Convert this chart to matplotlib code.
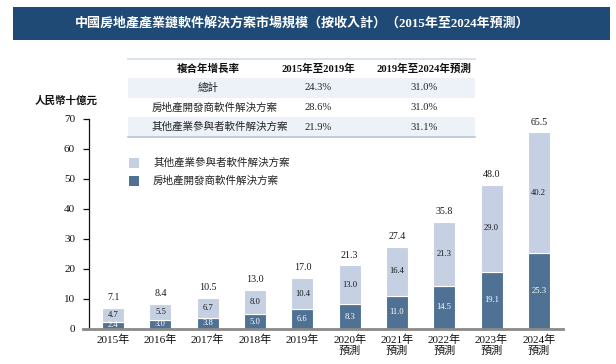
import matplotlib
matplotlib.use("Agg")
import matplotlib.pyplot as plt
from matplotlib.patches import Rectangle

plt.rcParams['font.family'] = ['Liberation Serif', 'Noto Sans CJK TC', 'DejaVu Sans']

# ---- data ----
years = ["2015年", "2016年", "2017年", "2018年", "2019年",
         "2020年\n預測", "2021年\n預測", "2022年\n預測", "2023年\n預測", "2024年\n預測"]
developer = [2.4, 3.0, 3.8, 5.0, 6.6, 8.3, 11.0, 14.5, 19.1, 25.3]
other = [4.7, 5.5, 6.7, 8.0, 10.4, 13.0, 16.4, 21.3, 29.0, 40.2]
totals = [7.1, 8.4, 10.5, 13.0, 17.0, 21.3, 27.4, 35.8, 48.0, 65.5]
series_names = ["其他產業參與者軟件解決方案", "房地產開發商軟件解決方案"]
yticks = [0, 10, 20, 30, 40, 50, 60, 70]

title = "中國房地產產業鏈軟件解決方案市場規模（按收入計）（2015年至2024年預測）"
ylabel = "人民幣十億元"
table_header = ["複合年增長率", "2015年至2019年", "2019年至2024年預測"]
table_rows = [
    ["總計", "24.3%", "31.0%"],
    ["房地產開發商軟件解決方案", "28.6%", "31.0%"],
    ["其他產業參與者軟件解決方案", "21.9%", "31.1%"],
]

DARK = "#4f7294"
LIGHT = "#c5d0e3"
BANNER = "#1f4a75"
ROWBG = "#edf2f8"

W, H = 616, 364
fig = plt.figure(figsize=(W / 100, H / 100), dpi=100)

def fx(px):
    return px / W

def fy(py):
    return 1 - py / H

# ---- title banner ----
fig.patches.append(Rectangle((fx(13), fy(40)), fx(610) - fx(13), fy(7) - fy(40),
                             transform=fig.transFigure, facecolor=BANNER,
                             edgecolor="none", zorder=0))
fig.text(fx(302), fy(23.5), title, color="white", fontsize=9.4, fontweight="bold",
         ha="center", va="center")

# ---- CAGR table ----
tl, tr = 128, 475
row_edges = [59, 78, 98, 117, 137]
for i in range(4):
    if i in (1, 3):
        fig.patches.append(Rectangle((fx(tl), fy(row_edges[i + 1])), fx(tr) - fx(tl),
                                     fy(row_edges[i]) - fy(row_edges[i + 1]),
                                     transform=fig.transFigure, facecolor=ROWBG,
                                     edgecolor="none", zorder=0))
for yline, col in [(59, "#d5dde8"), (137, "#b9c6d8")]:
    fig.add_artist(plt.Line2D([fx(tl), fx(tr)], [fy(yline), fy(yline)],
                              transform=fig.transFigure, color=col, lw=1.2))
col_x = [208, 318, 424]
hy = (row_edges[0] + row_edges[1]) / 2
for cx, txt in zip(col_x, table_header):
    fig.text(fx(cx), fy(hy), txt, fontsize=7.6, fontweight="bold",
             ha="center", va="center", color="#111111")
for r, row in enumerate(table_rows):
    ry = (row_edges[r + 1] + row_edges[r + 2]) / 2
    for c, txt in enumerate(row):
        if c == 0 and r > 0:
            fig.text(fx(152), fy(ry), txt, fontsize=7.6, ha="left", va="center",
                     color="#222222")
        else:
            fig.text(fx(col_x[c]), fy(ry), txt, fontsize=7.6, ha="center",
                     va="center", color="#222222")

# ---- axes ----
ax = fig.add_axes([fx(89), fy(329), fx(563) - fx(89), fy(119) - fy(329)])
x = list(range(len(years)))
bw = 0.465
ax.bar(x, developer, width=bw, color=DARK, edgecolor="white", linewidth=0.8,
       label=series_names[1], zorder=2)
ax.bar(x, other, width=bw, bottom=developer, color=LIGHT, edgecolor="white",
       linewidth=0.8, label=series_names[0], zorder=2)

for i in x:
    ax.text(i, developer[i] / 2, f"{developer[i]:.1f}", ha="center", va="center",
            fontsize=6.2, color="white", zorder=3)
    ax.text(i, developer[i] + other[i] / 2, f"{other[i]:.1f}", ha="center",
            va="center", fontsize=6.2, color="#1a1a1a", zorder=3)
    ax.annotate(f"{totals[i]:.1f}", (i, totals[i]), xytext=(0, 4),
                textcoords="offset points", ha="center", va="bottom",
                fontsize=7.2, color="#1a1a1a")

ax.set_xlim(-0.51, 9.51)
ax.set_ylim(0, 70)
ax.set_yticks(yticks)
ax.set_yticklabels([str(v) for v in yticks])
ax.set_xticks(x)
ax.set_xticklabels(years, linespacing=1.15)
ax.tick_params(axis="y", length=4, width=0.9, pad=6, labelsize=8, colors="#111111")
ax.tick_params(axis="x", length=0, pad=4, labelsize=8, colors="#111111")
for s in ("top", "right"):
    ax.spines[s].set_visible(False)
ax.spines["left"].set_color("#111111")
ax.spines["left"].set_linewidth(0.9)
ax.spines["bottom"].set_color("#8a8a8a")
ax.spines["bottom"].set_linewidth(2)
ax.spines["bottom"].set_zorder(4)
ax.spines["bottom"].set_bounds(-0.63, 9.51)

# y label
fig.text(fx(35), fy(101), ylabel, fontsize=7.6, fontweight="bold", ha="left",
         va="center", color="#111111")

# ---- legend ----
for k, (name, col) in enumerate([(series_names[0], LIGHT), (series_names[1], DARK)]):
    top = 158 + 18 * k
    fig.patches.append(Rectangle((fx(129), fy(top + 10)), fx(139) - fx(129),
                                 fy(top) - fy(top + 10), transform=fig.transFigure,
                                 facecolor=col, edgecolor="none"))
    fig.text(fx(153), fy(top + 5), name, fontsize=7.6, ha="left", va="center",
             color="#222222")

fig.savefig("out.png", dpi=100)
